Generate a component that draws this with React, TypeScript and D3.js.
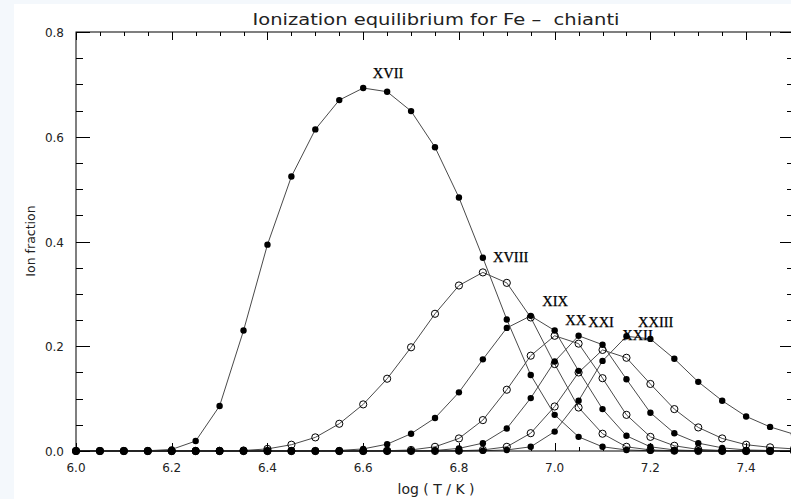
import React from 'react';
import * as d3 from 'd3';

const logT = [6.0, 6.05, 6.1, 6.15, 6.2, 6.25, 6.3, 6.35, 6.4, 6.45, 6.5, 6.55, 6.6, 6.65, 6.7, 6.75, 6.8, 6.85, 6.9, 6.95, 7.0, 7.05, 7.1, 7.15, 7.2, 7.25, 7.3, 7.35, 7.4, 7.45, 7.5];

const fe17 = [0, 0, 0, 0.0005, 0.003, 0.019, 0.086, 0.23, 0.394, 0.524, 0.614, 0.67, 0.693, 0.686, 0.649, 0.58, 0.484, 0.369, 0.251, 0.145, 0.069, 0.027, 0.008, 0.002, 0.0005, 0, 0, 0, 0, 0, 0];
const fe18 = [0, 0, 0, 0, 0, 0, 0.0003, 0.001, 0.004, 0.012, 0.026, 0.052, 0.089, 0.138, 0.198, 0.262, 0.316, 0.341, 0.321, 0.255, 0.166, 0.083, 0.033, 0.008, 0.002, 0.0005, 0, 0, 0, 0, 0];
const fe19 = [0, 0, 0, 0, 0, 0, 0, 0, 0, 0, 0, 0.001, 0.004, 0.013, 0.033, 0.063, 0.112, 0.175, 0.235, 0.258, 0.23, 0.153, 0.08, 0.029, 0.008, 0.002, 0.0005, 0, 0, 0, 0];
const fe20 = [0, 0, 0, 0, 0, 0, 0, 0, 0, 0, 0, 0, 0, 0.0005, 0.002, 0.008, 0.024, 0.059, 0.117, 0.182, 0.22, 0.205, 0.139, 0.069, 0.027, 0.01, 0.003, 0.001, 0, 0, 0];
const fe21 = [0, 0, 0, 0, 0, 0, 0, 0, 0, 0, 0, 0, 0, 0, 0, 0.001, 0.005, 0.015, 0.043, 0.101, 0.171, 0.22, 0.203, 0.137, 0.073, 0.034, 0.015, 0.006, 0.002, 0.001, 0];
const fe22 = [0, 0, 0, 0, 0, 0, 0, 0, 0, 0, 0, 0, 0, 0, 0, 0, 0.0005, 0.002, 0.008, 0.034, 0.085, 0.15, 0.193, 0.178, 0.128, 0.08, 0.045, 0.024, 0.012, 0.007, 0.004];
const fe23 = [0, 0, 0, 0, 0, 0, 0, 0, 0, 0, 0, 0, 0, 0, 0, 0, 0, 0.0005, 0.002, 0.008, 0.037, 0.096, 0.172, 0.219, 0.214, 0.176, 0.132, 0.096, 0.066, 0.046, 0.032];

const ionNames = ['XVII', 'XVIII', 'XIX', 'XX', 'XXI', 'XXII', 'XXIII'];
const ionSeries = [fe17, fe18, fe19, fe20, fe21, fe22, fe23];
const ionFilled = [true, false, true, false, true, false, true];
const labelT = [6.62, 6.871, 6.974, 7.022, 7.07, 7.141, 7.174];
const labelV = [0.712, 0.361, 0.277, 0.241, 0.237, 0.212, 0.237];

const xTickValues = [6.0, 6.2, 6.4, 6.6, 6.8, 7.0, 7.2, 7.4];
const yTickValues = [0.0, 0.2, 0.4, 0.6, 0.8];

const title = 'Ionization equilibrium for Fe \u2013  chianti';
const xTitle = 'log ( T / K )';
const yTitle = 'Ion fraction';

export default function App() {
  const W = 791;
  const H = 499;
  const left = 76, right = 794, top = 32, bottom = 451;
  const x = d3.scaleLinear().domain([6.0, 7.5]).range([left, right]);
  const y = d3.scaleLinear().domain([0, 0.8]).range([bottom, top]);
  const line = d3
    .line<number>()
    .x((_, i) => x(logT[i]))
    .y((d) => y(d));

  const xMinor = x.ticks(30);
  const yMinor = y.ticks(16);
  const isMajorX = (v: number) => xTickValues.some((t) => Math.abs(t - v) < 1e-6) || Math.abs(v - 7.5) < 1e-6;
  const isMajorY = (v: number) => yTickValues.some((t) => Math.abs(t - v) < 1e-6);

  const axisFont = "'DejaVu Sans', sans-serif";
  const axisColor = '#000';

  return (
    <div style={{ position: 'fixed', left: 0, top: 0, width: W, height: H }}>
      <svg width={W} height={H} style={{ display: 'block' }}>
        <rect x={0} y={0} width={W} height={H} fill="#f4f8fc" />
        <rect x={14} y={4} width={W - 14} height={H - 4} fill="#ffffff" />

        {ionSeries.map((s, k) => (
          <path key={'l' + k} d={line(s) || ''} fill="none" stroke="#4a4a4a" strokeWidth={1} />
        ))}

        <rect x={left} y={top} width={right - left} height={bottom - top} fill="none" stroke={axisColor} strokeWidth={1} />

        {xMinor.map((v, i) => {
          const len = isMajorX(v) ? 8 : 4;
          const px = Math.round(x(v)) + 0.5;
          return (
            <g key={'xt' + i}>
              <line x1={px} x2={px} y1={bottom} y2={bottom - len} stroke={axisColor} strokeWidth={1} />
              <line x1={px} x2={px} y1={top} y2={top + len} stroke={axisColor} strokeWidth={1} />
            </g>
          );
        })}
        {yMinor.map((v, i) => {
          const len = isMajorY(v) ? 14 : 7;
          const py = Math.round(y(v)) + 0.5;
          return (
            <g key={'yt' + i}>
              <line x1={left} x2={left + len} y1={py} y2={py} stroke={axisColor} strokeWidth={1} />
              <line x1={right} x2={right - len} y1={py} y2={py} stroke={axisColor} strokeWidth={1} />
            </g>
          );
        })}

        {ionSeries.map((s, k) => (
          <g key={'m' + k}>
            {s.map((v, i) =>
              ionFilled[k] ? (
                <circle key={i} cx={x(logT[i])} cy={y(v)} r={3.2} fill="#000" />
              ) : (
                <circle key={i} cx={x(logT[i])} cy={y(v)} r={3.6} fill="none" stroke="#000" strokeWidth={1} />
              )
            )}
          </g>
        ))}

        {ionNames.map((n, k) => (
          <text
            key={'lab' + k}
            x={x(labelT[k])}
            y={y(labelV[k])}
            fontFamily="'Liberation Serif', serif"
            fontSize={14.5}
            fill="#000"
            stroke="#000"
            strokeWidth={0.25}
          >
            {n}
          </text>
        ))}

        {xTickValues.map((v, i) => (
          <text key={'xl' + i} x={x(v)} y={472} textAnchor="middle" fontFamily={axisFont} fontSize={12} fill="#222">
            {v.toFixed(1)}
          </text>
        ))}
        {yTickValues.map((v, i) => (
          <text key={'yl' + i} x={64} y={y(v) + 5} textAnchor="end" fontFamily={axisFont} fontSize={12} fill="#222">
            {v.toFixed(1)}
          </text>
        ))}

        <text
          x={436}
          y={25}
          textAnchor="middle"
          fontFamily={axisFont}
          fontSize={15}
          fill="#222"
          textLength={367}
          lengthAdjust="spacingAndGlyphs"
          style={{ whiteSpace: 'pre' }}
        >
          {title}
        </text>
        <text x={436} y={494} textAnchor="middle" fontFamily={axisFont} fontSize={14} fill="#222">
          {xTitle}
        </text>
        <text
          transform={`translate(35, ${241}) rotate(-90)`}
          textAnchor="middle"
          fontFamily={axisFont}
          fontSize={12.5}
          fill="#222"
        >
          {yTitle}
        </text>
      </svg>
    </div>
  );
}
